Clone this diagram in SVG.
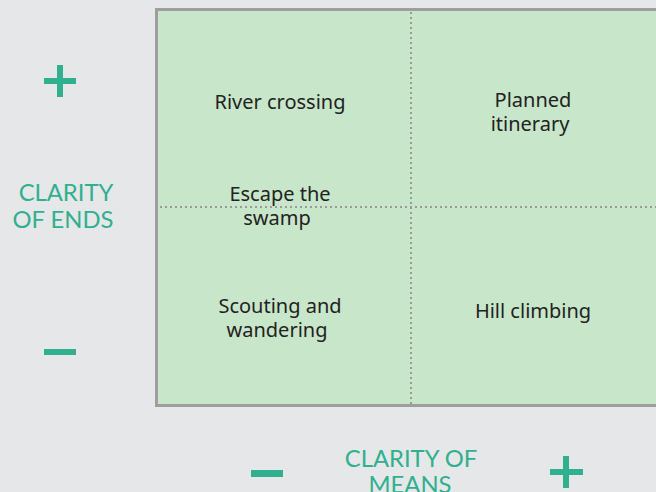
<svg xmlns="http://www.w3.org/2000/svg" width="656" height="492" viewBox="0 0 656 492">
<style>
.q{font-family:"Noto Sans","DejaVu Sans",sans-serif;font-size:20px;fill:#222;text-anchor:middle}
.ax{font-family:Lato,"Noto Sans",sans-serif;font-size:23.8px;fill:#30b08f;text-anchor:middle}
.sym{fill:#30b08f}
.grid{stroke:#9a9a9a;stroke-width:2;stroke-dasharray:2 3;fill:none}
</style>
<rect width="656" height="492" fill="#e6e7e9"/>
<g id="matrix">
<rect x="156.5" y="9.5" width="520" height="396" fill="#c8e6c9" stroke="#9e9e9e" stroke-width="3"/>
</g>
<g id="connectors">
<line class="grid" x1="411" y1="12" x2="411" y2="404"/>
<line class="grid" x1="160" y1="207" x2="656" y2="207"/>
</g>
<g id="river"><text class="q" x="280" y="109">River crossing</text></g>
<g id="planned"><text class="q" x="533" y="107">Planned</text><text class="q" x="530" y="131">itinerary</text></g>
<g id="escape"><text class="q" x="280" y="201">Escape the</text><text class="q" x="277" y="225">swamp</text></g>
<g id="scouting"><text class="q" x="280" y="313">Scouting and</text><text class="q" x="277" y="337">wandering</text></g>
<g id="hill"><text class="q" x="533" y="318">Hill climbing</text></g>
<g id="ends-axis">
<text class="ax" x="66" y="201">CLARITY</text>
<text class="ax" x="63" y="228">OF ENDS</text>
<rect class="sym" x="44" y="78" width="32" height="6"/>
<rect class="sym" x="57" y="65" width="6" height="32"/>
<rect class="sym" x="44" y="349" width="32" height="6"/>
</g>
<g id="means-axis">
<text class="ax" x="411" y="467">CLARITY OF</text>
<text class="ax" x="410" y="493">MEANS</text>
<rect class="sym" x="251" y="470" width="32" height="7"/>
<rect class="sym" x="550" y="469" width="33" height="6"/>
<rect class="sym" x="563" y="456" width="6" height="32"/>
</g>
</svg>
